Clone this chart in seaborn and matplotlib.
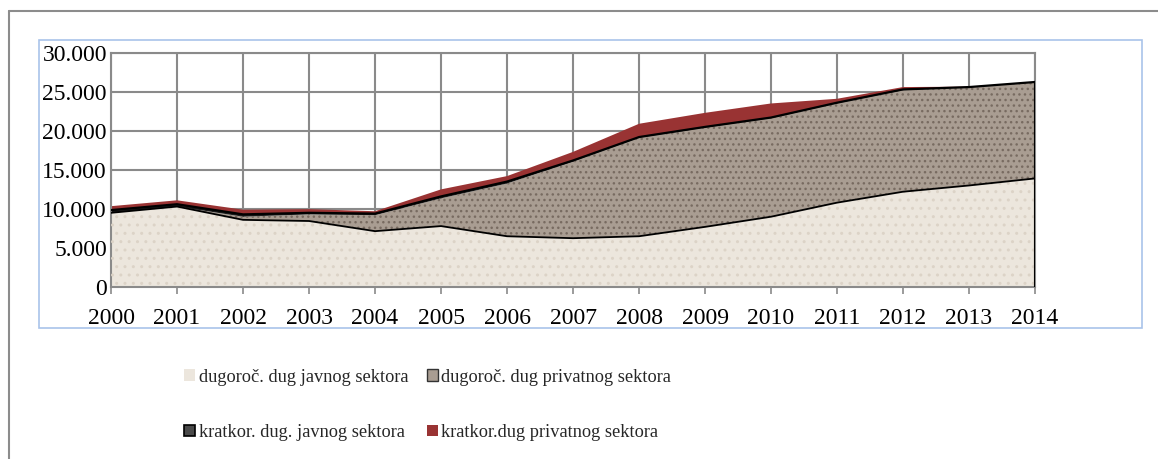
import numpy as np
import pandas as pd
import seaborn as sns
import matplotlib.pyplot as plt
from matplotlib.patches import Patch, Rectangle
from matplotlib.lines import Line2D
from matplotlib.ticker import FuncFormatter

# data (mil. EUR)
years = list(range(2000, 2015))
pub_long = [9500, 10300, 8600, 8450, 7150, 7800, 6500, 6250, 6500, 7700, 9000, 10800, 12200, 13000, 13900]
pub_short = [350, 300, 300, 200, 200, 250, 250, 150, 100, 100, 100, 100, 100, 50, 50]
priv_long = [0, 0, 400, 850, 2050, 3550, 6750, 9800, 12600, 12700, 12600, 12700, 13000, 12550, 12300]
priv_short = [500, 500, 600, 470, 300, 900, 700, 1100, 1700, 1800, 1800, 500, 300, 50, 0]

labels = ["dugoroč. dug javnog sektora", "dugoroč. dug privatnog sektora",
          "kratkor. dug. javnog sektora", "kratkor.dug privatnog sektora"]
yticks = [0, 5000, 10000, 15000, 20000, 25000, 30000]

df = pd.DataFrame({"year": years, "pub_long": pub_long, "priv_long": priv_long,
                   "pub_short": pub_short, "priv_short": priv_short})
df["c1"] = df["pub_long"]
df["c2"] = df["c1"] + df["priv_long"]
df["c3"] = df["c2"] + df["pub_short"]
df["c4"] = df["c3"] + df["priv_short"]

sns.set_theme(style="white")
plt.rcParams["font.family"] = ["Liberation Serif", "DejaVu Serif"]

fig = plt.figure(figsize=(11.58, 4.59), dpi=100)
ax = fig.add_axes([0.0959, 0.3747, 0.7979, 0.5105])

beige, brown, dark, red = "#ece6dd", "#a99d92", "#1c1c1c", "#993333"

# filled layers
ax.fill_between(df["year"], 0, df["c1"], facecolor=beige, edgecolor="none", zorder=2)
ax.fill_between(df["year"], df["c1"], df["c2"], facecolor=brown, edgecolor="none", zorder=2)
ax.fill_between(df["year"], df["c2"], df["c3"], facecolor=dark, edgecolor="none", zorder=2)
ax.fill_between(df["year"], df["c3"], df["c4"], facecolor=red, edgecolor="none", zorder=2)

# speckle texture
ax.fill_between(df["year"], 0, df["c1"], facecolor="none", edgecolor="#dcd3c7",
                hatch="..", linewidth=0, zorder=3)
ax.fill_between(df["year"], df["c1"], df["c2"], facecolor="none", edgecolor="#786b61",
                hatch="...", linewidth=0, zorder=3)

# boundary lines
sns.lineplot(data=df, x="year", y="c1", color="black", linewidth=1.3, ax=ax, zorder=4)
sns.lineplot(data=df, x="year", y="c3", color="black", linewidth=1.6, ax=ax, zorder=4)
ax.plot([years[-1], years[-1]], [0, df["c3"].iloc[-1]], color="black", linewidth=1.5, zorder=4)

ax.set_xlim(years[0], years[-1])
ax.set_ylim(0, 30000)
ax.set_xticks(years)
ax.set_yticks(yticks)
ax.yaxis.set_major_formatter(FuncFormatter(lambda v, p: f"{int(v):,}".replace(",", ".")))
ax.set_xlabel("")
ax.set_ylabel("")
ax.grid(True, color="#8a8a8a", linewidth=1.5, zorder=1)
ax.set_axisbelow(True)
for s in ax.spines.values():
    s.set_color("#8a8a8a")
    s.set_linewidth(1.5)
ax.tick_params(axis="x", bottom=True, length=5, width=1.2, color="#8a8a8a",
               labelsize=17, pad=10, labelcolor="black")
ax.tick_params(axis="y", left=False, length=0, labelsize=17, pad=3, labelcolor="black")

# legend
handles = [Patch(facecolor=beige, edgecolor="none"),
           Patch(facecolor="#4a4a4a", edgecolor="black", linewidth=1.2),
           Patch(facecolor=brown, edgecolor="#333333", linewidth=1.0),
           Patch(facecolor=red, edgecolor="none")]
order_labels = [labels[0], labels[2], labels[1], labels[3]]
fig.legend(handles, order_labels, loc="upper left", bbox_to_anchor=(0.151, 0.217),
           ncol=2, frameon=False, fontsize=13.2, handlelength=0.6, handleheight=0.6,
           handletextpad=0.2, columnspacing=1.0, labelspacing=2.1, borderpad=0)

# frames around the chart
fig.patches.append(Rectangle((0.0337, 0.2854), 0.9525, 0.6275, transform=fig.transFigure,
                             fill=False, edgecolor="#a9c3ea", linewidth=1.2))
fig.lines.append(Line2D([0.0078, 0.0078], [0.0, 0.976], transform=fig.transFigure,
                        color="#8c8c8c", linewidth=1.5))
fig.lines.append(Line2D([0.0078, 1.0], [0.976, 0.976], transform=fig.transFigure,
                        color="#8c8c8c", linewidth=1.5))

fig.savefig("out.png", dpi=100)
